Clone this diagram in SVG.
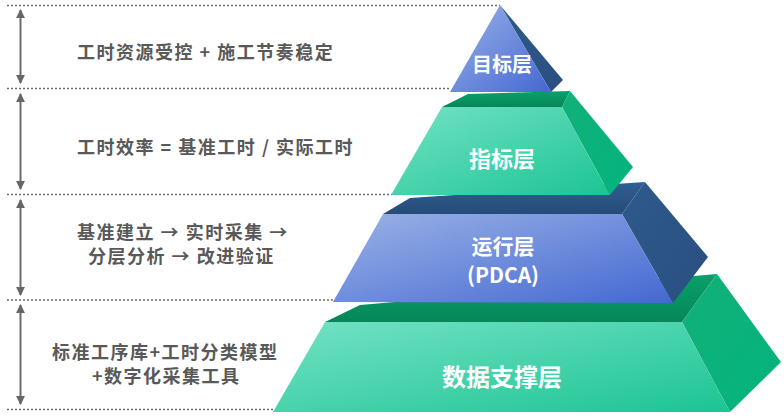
<svg xmlns="http://www.w3.org/2000/svg" width="784" height="419" viewBox="0 0 784 419">
<defs>
<linearGradient id="blueFront" x1="0" y1="0" x2="1" y2="1">
<stop offset="0" stop-color="#9ab2e6"/>
<stop offset="1" stop-color="#4468d2"/>
</linearGradient>
<linearGradient id="greenFront" x1="0" y1="0" x2="1" y2="1">
<stop offset="0" stop-color="#74e2c4"/>
<stop offset="1" stop-color="#1cc493"/>
</linearGradient>
<linearGradient id="blueSide" x1="0" y1="0" x2="1" y2="1">
<stop offset="0" stop-color="#2e5a8c"/>
<stop offset="1" stop-color="#2a4f80"/>
</linearGradient>
<linearGradient id="greenSide" x1="0" y1="0" x2="1" y2="1">
<stop offset="0" stop-color="#12b078"/>
<stop offset="1" stop-color="#04b47e"/>
</linearGradient>
<linearGradient id="greenTop" x1="0" y1="0" x2="0" y2="1">
<stop offset="0" stop-color="#0aa06a"/>
<stop offset="1" stop-color="#06865a"/>
</linearGradient>
<linearGradient id="blueTop" x1="0" y1="0" x2="0" y2="1">
<stop offset="0" stop-color="#2f5f92"/>
<stop offset="1" stop-color="#264b78"/>
</linearGradient>
<marker id="ah" viewBox="0 0 10 10" refX="9" refY="5" markerWidth="4.5" markerHeight="4.5" orient="auto-start-reverse">
<path d="M0,0 L10,5 L0,10 z" fill="#666"/>
</marker>
</defs>
<style>
.dot{stroke:#6a6a6a;stroke-width:1.5;stroke-dasharray:2 2;fill:none}
.arr{stroke:#6a6a6a;stroke-width:2;fill:none;marker-start:url(#ah);marker-end:url(#ah)}
.ann{font-family:"Noto Sans CJK SC","Noto Sans",sans-serif;font-weight:bold;font-size:18px;letter-spacing:1.5px;fill:#595959}
.lbl{font-family:"Noto Sans CJK SC","Noto Sans",sans-serif;font-weight:bold;fill:#ffffff;text-anchor:middle;dominant-baseline:central}
</style>
<rect width="784" height="419" fill="#ffffff"/>
<g id="connectors">
<line class="dot" x1="7" y1="5.5" x2="500" y2="5.5"/>
<line class="dot" x1="7" y1="88.5" x2="451" y2="88.5"/>
<line class="dot" x1="7" y1="194.5" x2="392" y2="194.5"/>
<line class="dot" x1="7" y1="300" x2="334" y2="300"/>
<line class="dot" x1="7" y1="409.5" x2="274" y2="409.5"/>
<line class="arr" x1="20.5" y1="10" x2="20.5" y2="83"/>
<line class="arr" x1="20.5" y1="94" x2="20.5" y2="189"/>
<line class="arr" x1="20.5" y1="200" x2="20.5" y2="295"/>
<line class="arr" x1="20.5" y1="305" x2="20.5" y2="404"/>
</g>
<g id="tier4">
<polygon points="325,322 360,305 717,274 682,322" fill="url(#greenTop)"/>
<polygon points="682,322 717,274 781,362 730,412" fill="url(#greenSide)"/>
<polygon points="325,322 682,322 730,412 273,412" fill="url(#greenFront)"/>
<text class="lbl" x="502" y="375" font-size="24">数据支撑层</text>
</g>
<g id="tier3">
<polygon points="383,214 410,198 645,182 622,214" fill="url(#blueTop)"/>
<polygon points="622,214 645,182 708,257 673,303" fill="url(#blueSide)"/>
<polygon points="383,214 622,214 673,303 333,302" fill="url(#blueFront)"/>
<text class="lbl" x="503" y="245" font-size="21">运行层</text>
<text class="lbl" x="503" y="274" font-size="21">(PDCA)</text>
</g>
<g id="tier2">
<polygon points="442,107 468,94 570,91 562,107" fill="url(#greenTop)"/>
<polygon points="562,107 570,91 633,167 610,195" fill="url(#greenSide)"/>
<polygon points="442,107 562,107 610,195 391,195" fill="url(#greenFront)"/>
<text class="lbl" x="502" y="157" font-size="22">指标层</text>
</g>
<g id="tier1">
<polygon points="500,5 563,80 551,92" fill="url(#blueSide)"/>
<polygon points="500,5 551,92 450,92" fill="url(#blueFront)"/>
<text class="lbl" x="502" y="63" font-size="20">目标层</text>
</g>
<g id="ann1"><text class="ann" x="77" y="59">工时资源受控 + 施工节奏稳定</text></g>
<g id="ann2"><text class="ann" x="77" y="154">工时效率 = 基准工时 / 实际工时</text></g>
<g id="ann3"><text class="ann" x="77" y="239">基准建立 → 实时采集 →</text><text class="ann" x="88" y="263">分层分析 → 改进验证</text></g>
<g id="ann4"><text class="ann" x="52" y="359">标准工序库+工时分类模型</text><text class="ann" x="92" y="383">+数字化采集工具</text></g>
</svg>
